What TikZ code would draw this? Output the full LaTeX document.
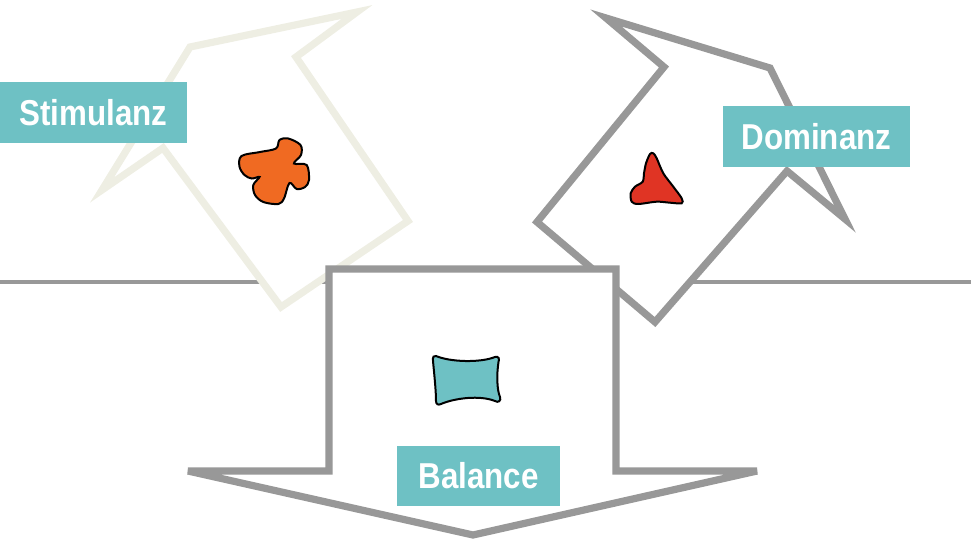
\documentclass[tikz,border=0pt]{standalone}
\usepackage{fontspec}
\newfontfamily\labfont{Liberation Sans}[FakeStretch=0.87]
\definecolor{tealA}{HTML}{6EC1C4}
\definecolor{grayA}{HTML}{989898}
\definecolor{beigeA}{HTML}{EEEEE3}
\definecolor{orangeA}{HTML}{F06A22}
\definecolor{redA}{HTML}{E03424}
\begin{document}
\begin{tikzpicture}[x=0.75pt,y=-0.75pt,
  arrowshape/.style={line width=5.4pt, fill=white, line join=miter, miter limit=7},
  labelbox/.style={fill=tealA, text=white, font=\labfont\bfseries\fontsize{27}{30}\selectfont,
    inner sep=0pt, minimum width=140.25pt, minimum height=45.75pt},
  blob/.style={draw=black, line width=1.5pt}]
\useasboundingbox (0,0) rectangle (971,542);
% horizon line
\draw[grayA, line width=3.6pt] (0,282) -- (971,282);
% Stimulanz arrow (light)
\draw[arrowshape, draw=beigeA] (357,12) -- (190,47) -- (102,190) -- (163,148) -- (281,307) -- (408,221) -- (296,57) -- cycle;
% Dominanz arrow (gray)
\draw[arrowshape, draw=grayA] (606,18) -- (770,68) -- (845,219) -- (787,171) -- (655,322) -- (537,222) -- (664,67) -- cycle;
% Balance arrow
\draw[arrowshape, draw=grayA] (329,269) -- (616,269) -- (616,471) -- (757,471) -- (473,535) -- (188,471) -- (329,471) -- cycle;
% blobs
\filldraw[blob, fill=orangeA] plot[smooth cycle, tension=0.55] coordinates {
  (241.5,156) (260,152) (276,148.5) (279.5,140) (288.3,138.5) (300.5,145) (301,155)
  (294,163.5) (306.7,165) (309,180) (305,187) (296.7,189) (289.5,183)
  (284,198.5) (278.3,204) (263.3,202) (255,195) (253.3,185) (259.5,177)
  (251.7,178.5) (244.5,175) (239.5,166.7)};
\filldraw[blob, fill=redA] plot[smooth cycle, tension=0.5] coordinates {
  (653.3,153.3) (656.7,158.3) (663.3,173.3) (673.3,186.7) (681.7,198.3) (681.7,203.3)
  (670,202.7) (656.7,201.7) (638.3,204) (631.7,201.7) (630.7,193.3) (635,186.7)
  (642.7,181.7) (644,173.3) (646,163.3) (650,154)};
\filldraw[blob, fill=tealA] (436,356) .. controls (450,362) and (480,363) .. (495,357)
  .. controls (499,356) and (499.5,359) .. (498.5,362)
  .. controls (496.5,375) and (497,390) .. (500,397)
  .. controls (501.5,401) and (498,403) .. (495,401)
  .. controls (480,395) and (455,398) .. (441,404)
  .. controls (438,405.5) and (436,404) .. (436,401)
  .. controls (436,390) and (434,372) .. (433,361)
  .. controls (432.5,357) and (434,355) .. (436,356) -- cycle;
% labels
\node[labelbox] (stim) at (93.5,112.5) {Stimulanz};
\node[labelbox] (dom) at (816.5,136.5) {Dominanz};
\node[labelbox, minimum width=122.25pt, minimum height=45pt] (bal) at (478.5,476) {Balance};
\end{tikzpicture}
\end{document}
